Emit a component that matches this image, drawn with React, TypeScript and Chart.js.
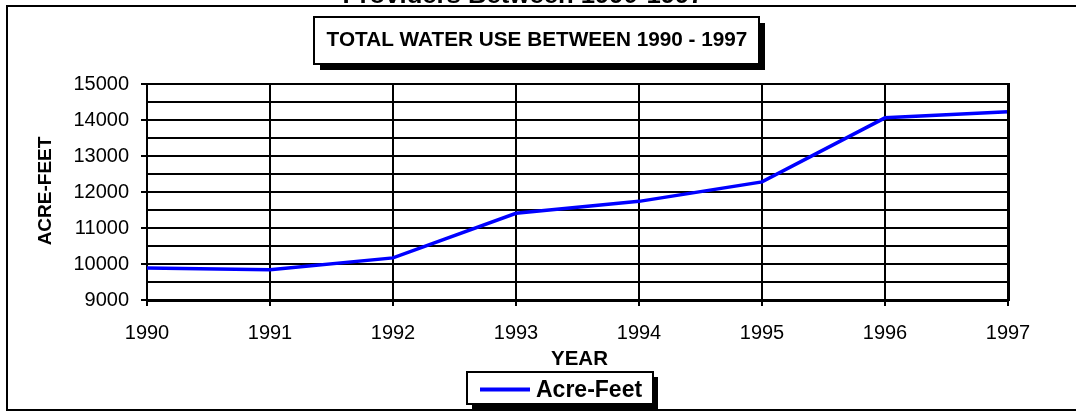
import React, { useEffect, useRef } from 'react';
import { Chart, registerables } from 'chart.js';

Chart.register(...registerables);

// ---- data ----
const YEARS: string[] = ['1990', '1991', '1992', '1993', '1994', '1995', '1996', '1997'];
const ACRE_FEET: number[] = [9890, 9840, 10170, 11410, 11740, 12280, 14060, 14230];
const SERIES_LABEL = 'Acre-Feet';
const Y_MIN = 9000;
const Y_MAX = 15000;
const Y_STEP = 500;
const Y_LABEL_STEP = 1000;
const PAGE_TITLE = 'Providers Between 1990-1997';
const CHART_TITLE = 'TOTAL WATER USE BETWEEN 1990 - 1997';
const X_TITLE = 'YEAR';
const Y_TITLE = 'ACRE-FEET';

const FONT = '"Liberation Sans", Arial, sans-serif';
const W = 1076;
const H = 412;

function textAt(
  ctx: CanvasRenderingContext2D,
  text: string,
  x: number,
  y: number,
  font: string,
  sx: number,
  align: CanvasTextAlign,
) {
  ctx.save();
  ctx.font = font;
  ctx.textAlign = align;
  ctx.textBaseline = 'alphabetic';
  ctx.fillStyle = '#000';
  ctx.translate(x, y);
  ctx.scale(sx, 1);
  ctx.fillText(text, 0, 0);
  ctx.restore();
}

function shadowBox(ctx: CanvasRenderingContext2D, x: number, y: number, w: number, h: number, off: number) {
  ctx.save();
  ctx.fillStyle = '#000';
  ctx.fillRect(x + off, y + off, w, h);
  ctx.fillStyle = '#fff';
  ctx.fillRect(x, y, w, h);
  ctx.strokeStyle = '#000';
  ctx.lineWidth = 2;
  ctx.strokeRect(x, y, w, h);
  ctx.restore();
}

const decorations = {
  id: 'decorations',
  beforeDraw(chart: any) {
    const ctx = chart.ctx as CanvasRenderingContext2D;
    ctx.save();
    ctx.fillStyle = '#fff';
    ctx.fillRect(0, 0, chart.width, chart.height);
    ctx.restore();
  },
  afterDraw(chart: any) {
    const ctx = chart.ctx as CanvasRenderingContext2D;
    const area = chart.chartArea;

    // thick right edge of the plot
    ctx.save();
    ctx.strokeStyle = '#000';
    ctx.lineWidth = 3;
    ctx.beginPath();
    ctx.moveTo(area.right + 0.5, area.top - 1);
    ctx.lineTo(area.right + 0.5, area.bottom + 1);
    ctx.stroke();
    ctx.restore();

    // outer frame (left, top, bottom)
    ctx.save();
    ctx.strokeStyle = '#000';
    ctx.lineWidth = 2;
    ctx.beginPath();
    ctx.moveTo(W, 6);
    ctx.lineTo(7, 6);
    ctx.lineTo(7, 410);
    ctx.lineTo(W, 410);
    ctx.stroke();
    ctx.restore();

    // clipped page title
    textAt(ctx, PAGE_TITLE, 523, 3, `bold 24px ${FONT}`, 1.07, 'center');

    // chart title box
    shadowBox(ctx, 314, 17, 445, 47, 6);
    textAt(ctx, CHART_TITLE, 537, 45.5, `bold 19.5px ${FONT}`, 1.064, 'center');

    // axis titles
    ctx.save();
    ctx.translate(50.5, 191);
    ctx.rotate(-Math.PI / 2);
    ctx.font = `bold 19px ${FONT}`;
    ctx.textAlign = 'center';
    ctx.textBaseline = 'alphabetic';
    ctx.fillStyle = '#000';
    ctx.fillText(Y_TITLE, 0, 0);
    ctx.restore();

    textAt(ctx, X_TITLE, (area.left + area.right) / 2 + 2, 365, `bold 19.5px ${FONT}`, 1.05, 'center');

    // legend
    const ds = chart.data.datasets[0];
    shadowBox(ctx, 467, 372, 186, 32, 5);
    ctx.save();
    ctx.strokeStyle = ds.borderColor;
    ctx.lineWidth = 4;
    ctx.beginPath();
    ctx.moveTo(480, 389.5);
    ctx.lineTo(530, 389.5);
    ctx.stroke();
    ctx.restore();
    textAt(ctx, ds.label, 536, 397, `bold 23px ${FONT}`, 1.0, 'left');
  },
};

export default function App() {
  const ref = useRef<HTMLCanvasElement | null>(null);

  useEffect(() => {
    const canvas = ref.current;
    if (!canvas) return;
    const chart = new Chart(canvas, {
      type: 'line',
      data: {
        labels: YEARS,
        datasets: [
          {
            label: SERIES_LABEL,
            data: ACRE_FEET,
            borderColor: '#0000ff',
            backgroundColor: '#0000ff',
            borderWidth: 3.5,
            pointRadius: 0,
            pointHoverRadius: 0,
            tension: 0,
            fill: false,
          },
        ],
      },
      options: {
        responsive: false,
        maintainAspectRatio: false,
        devicePixelRatio: 1,
        animation: false,
        events: [],
        layout: { padding: { top: 84, right: 68, left: 0, bottom: 0 } },
        plugins: {
          legend: { display: false },
          title: { display: false },
          tooltip: { enabled: false },
        },
        scales: {
          x: {
            type: 'category',
            offset: false,
            grid: {
              offset: false,
              color: '#000',
              lineWidth: 2,
              tickLength: 6,
              tickColor: '#000',
              tickWidth: 2,
            },
            border: { display: true, color: '#000', width: 3 },
            ticks: {
              color: '#000',
              font: { family: FONT, size: 20 },
              padding: 15,
              maxRotation: 0,
              autoSkip: false,
            },
            afterFit(scale: any) {
              scale.height = 112;
            },
          },
          y: {
            type: 'linear',
            min: Y_MIN,
            max: Y_MAX,
            grid: {
              color: '#000',
              lineWidth: 2,
              tickLength: 6,
              tickWidth: 2,
              tickColor: (c: any) =>
                c.tick && c.tick.value % Y_LABEL_STEP === 0 ? '#000' : 'rgba(0,0,0,0)',
            },
            border: { display: true, color: '#000', width: 2 },
            ticks: {
              stepSize: Y_STEP,
              autoSkip: false,
              color: '#000',
              font: { family: FONT, size: 20 },
              padding: 12,
              callback: (v: any) => (Number(v) % Y_LABEL_STEP === 0 ? String(v) : ''),
            },
            afterFit(scale: any) {
              scale.width = 147;
            },
          },
        },
      },
      plugins: [decorations],
    });
    return () => chart.destroy();
  }, []);

  return (
    <div style={{ position: 'absolute', left: 0, top: 0, width: W, height: H, background: '#fff' }}>
      <canvas ref={ref} width={W} height={H} style={{ display: 'block', width: W, height: H }} />
    </div>
  );
}
